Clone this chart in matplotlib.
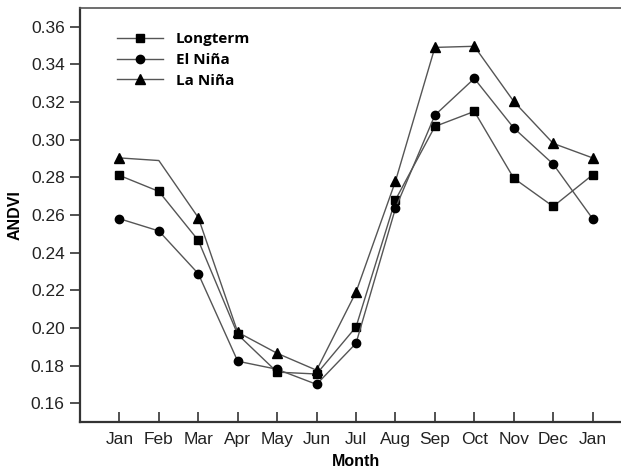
import numpy as np
import matplotlib
matplotlib.use('Agg')
import matplotlib.pyplot as plt

months = ['Jan', 'Feb', 'Mar', 'Apr', 'May', 'Jun', 'Jul',
          'Aug', 'Sep', 'Oct', 'Nov', 'Dec', 'Jan']
longterm = [0.281, 0.2725, 0.2465, 0.1965, 0.1765, 0.1755, 0.2005,
            0.268, 0.307, 0.315, 0.2795, 0.2645, 0.2813]
el_nina = [0.258, 0.2515, 0.2288, 0.1823, 0.178, 0.170, 0.1918,
           0.2635, 0.313, 0.3325, 0.3062, 0.287, 0.258]
la_nina = [0.2903, 0.2889, 0.2586, 0.1977, 0.1865, 0.1775, 0.219,
           0.2779, 0.349, 0.3496, 0.3203, 0.298, 0.2903]

plt.rcParams['font.family'] = ['Liberation Sans', 'DejaVu Sans']

fig = plt.figure(figsize=(6.21, 4.69), dpi=100)
ax = fig.add_axes([0.1288, 0.1002, 0.889, 0.883])

x = np.arange(len(months))
line_kw = dict(color='#555555', lw=1.0, mfc='black', mec='black')
ax.plot(x, longterm, marker='s', ms=6, label='Longterm', **line_kw)
ax.plot(x, el_nina, marker='o', ms=6, label='El Niña', **line_kw)
# Feb marker for La Niña is missing in the original
ax.plot(x, la_nina, marker='^', ms=7, label='La Niña',
        markevery=[i for i in range(len(x)) if i != 1], **line_kw)

ax.set_xlim(-1, 13)
ax.set_ylim(0.15, 0.37)
ax.set_xticks(x)
ax.set_xticklabels(months, fontsize=12.5, color='#222222')
yt = np.arange(0.16, 0.361, 0.02)
ax.set_yticks(yt)
ax.set_yticklabels([f'{v:.2f}' for v in yt], fontsize=12.5, color='#222222')
ax.tick_params(axis='x', direction='in', length=7, width=1.2, color='#333333', pad=7)
ax.tick_params(axis='y', direction='out', length=7, width=1.2, color='#333333', pad=4)

for side in ['left', 'bottom']:
    ax.spines[side].set_linewidth(1.6)
    ax.spines[side].set_color('#333333')
ax.spines['top'].set_linewidth(1.2)
ax.spines['top'].set_color('#555555')
ax.spines['right'].set_visible(False)

ax.set_xlabel('Month', fontsize=11.5, fontweight='bold', labelpad=5)
ax.set_ylabel('ANDVI', fontsize=11.5, fontweight='bold', labelpad=6)

ax.legend(loc='upper left', bbox_to_anchor=(0.043, 0.975), frameon=False,
          prop={'weight': 'bold', 'size': 11, 'family': 'Open Sans'},
          handlelength=3, labelspacing=0.45, handletextpad=0.8)

fig.savefig('out.png', dpi=100)
